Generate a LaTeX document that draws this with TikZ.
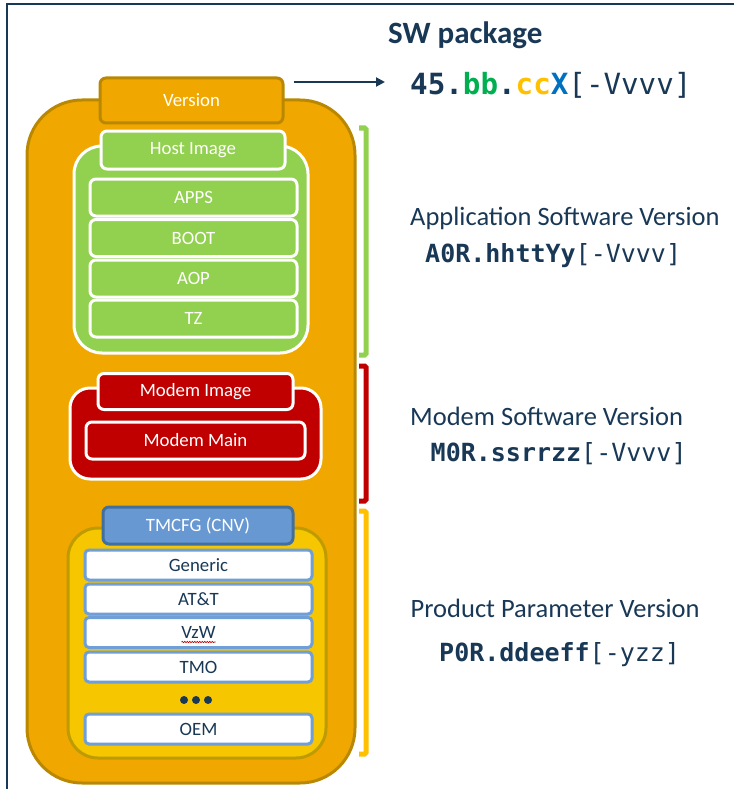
\documentclass[tikz,border=0pt]{standalone}
\usepackage{fontspec}
\setmainfont{Carlito}
\newfontfamily\codefont{DejaVu Sans Mono}
\usepackage{xcolor}
\usetikzlibrary{arrows.meta,calc,decorations.pathmorphing}

\definecolor{navy}{RGB}{24,56,86}
\definecolor{gold}{RGB}{240,168,0}
\definecolor{goldline}{RGB}{186,136,0}
\definecolor{hostgreen}{RGB}{146,208,80}
\definecolor{modemred}{RGB}{192,0,0}
\definecolor{cfgyellow}{RGB}{246,198,0}
\definecolor{cfgline}{RGB}{190,155,0}
\definecolor{cfgblue}{RGB}{104,152,210}
\definecolor{cfgblueline}{RGB}{66,112,158}
\definecolor{itemblue}{RGB}{112,158,214}
\definecolor{vergreen}{RGB}{0,176,80}
\definecolor{veryellow}{RGB}{255,192,0}
\definecolor{verblue}{RGB}{0,112,192}

\newcommand{\lblsize}{\fontsize{18.8}{20}\selectfont}

\begin{document}
\begin{tikzpicture}[x=1pt, y=-1pt,
    imgbox/.style={rectangle, draw=white, fill=#1, line width=3pt, rounded corners=6pt, inner sep=0pt, font=\lblsize, text=white},
    cfgitem/.style={rectangle, draw=itemblue, fill=white, line width=3pt, rounded corners=4pt, minimum width=227pt, minimum height=30pt, inner sep=0pt, font=\lblsize, text=navy},
    brk/.style={draw=#1, line width=5pt, rounded corners=1.5pt},
    verlbl/.style={anchor=base west, inner sep=0pt, font=\fontsize{26.5}{30}\selectfont, text=navy},
    vercode/.style={anchor=base west, inner sep=0pt, font=\fontsize{25}{28}\selectfont\codefont, text=navy},
    pkgarr/.style={-{Triangle[length=9pt,width=9pt]}, draw=navy, line width=2pt}
]
\useasboundingbox (0,0) rectangle (734,789);
\draw[navy, line width=2.5pt] (7,789) -- (7,4) -- (734,4);

% SW package
\node[imgbox=gold, draw=goldline, minimum width=328pt, minimum height=683pt, rounded corners=55pt] (outer) at (191,441.5) {};
\node[imgbox=gold, draw=goldline, minimum width=183pt, minimum height=45pt] (version) at (191.5,100.5) {Version};

% Host image
\node[imgbox=hostgreen, minimum width=234pt, minimum height=207pt, rounded corners=28pt] (host) at (191,249.5) {};
\node[imgbox=hostgreen, minimum width=184pt, minimum height=38pt] (hosttab) at (193,150) {Host Image};
\node[imgbox=hostgreen, minimum width=207pt, minimum height=37pt] (apps) at (193.5,197.5) {APPS};
\node[imgbox=hostgreen, minimum width=207pt, minimum height=37pt] (boot) at (193.5,238) {BOOT};
\node[imgbox=hostgreen, minimum width=207pt, minimum height=37pt] (aop) at (193.5,278.5) {AOP};
\node[imgbox=hostgreen, minimum width=207pt, minimum height=37pt] (tz) at (193.5,318.5) {TZ};

% Modem image
\node[imgbox=modemred, minimum width=251pt, minimum height=91pt, rounded corners=20pt] (modem) at (195.5,433.5) {};
\node[imgbox=modemred, minimum width=195pt, minimum height=36pt] (modemtab) at (195.5,391.5) {Modem Image};
\node[imgbox=modemred, minimum width=219pt, minimum height=37pt] (modemmain) at (195.5,440.5) {Modem Main};

% TMCFG
\node[imgbox=cfgyellow, draw=cfgline, minimum width=258pt, minimum height=230pt, rounded corners=30pt] (tmcfg) at (197,643) {};
\node[imgbox=cfgblue, draw=cfgblueline, minimum width=190pt, minimum height=37pt] (tmtab) at (198,525.5) {TMCFG (CNV)};
\node[cfgitem] (generic) at (198.5,565) {Generic};
\node[cfgitem] (att) at (198.5,599) {AT\&T};
\node[cfgitem] (vzw) at (198.5,632.5) {VzW};
\node[cfgitem] (tmo) at (198.5,667) {TMO};
\node[cfgitem] (oem) at (198.5,729) {OEM};
\draw[modemred, line width=0.6pt, decorate, decoration={snake, amplitude=0.7pt, segment length=2.5pt}] ($(vzw.base)+(-17,3.5)$) -- ($(vzw.base)+(17,3.5)$);
\fill[navy] (184,700) circle (4pt);
\fill[navy] (196,700) circle (4pt);
\fill[navy] (208,700) circle (4pt);

% Brackets
\draw[brk=hostgreen] (359,128) -- (366,128) -- (366,355) -- (359,355);
\draw[brk=modemred] (359,366) -- (366,366) -- (366,501) -- (359,501);
\draw[brk=veryellow] (359,511) -- (366,511) -- (366,754) -- (359,754);

% Version strings
\node[anchor=base west, inner sep=0pt, font=\fontsize{31}{34}\selectfont\bfseries, text=navy] (title) at (388,43.3) {SW package};
\node[anchor=base west, inner sep=0pt, font=\fontsize{29.2}{32}\selectfont\codefont, text=navy] (pkgver) at (410,95) {{\bfseries 45.\textcolor{vergreen}{bb}.\textcolor{veryellow}{cc}\textcolor{verblue}{X}}[-Vvvv]};
\draw[pkgarr] ($(version.east)+(9,-18.5)$) -- ($(pkgver.base west)+(-25,-13)$);

\node[verlbl] (applbl) at (410,225.5) {Application Software Version};
\node[vercode] (appver) at (425,262.5) {{\bfseries A0R.hhttYy}[-Vvvv]};
\node[verlbl] (modemlbl) at (410,425) {Modem Software Version};
\node[vercode] (modemver) at (430.5,461.7) {{\bfseries M0R.ssrrzz}[-Vvvv]};
\node[verlbl] (prodlbl) at (410.5,617.7) {Product Parameter Version};
\node[vercode] (prodver) at (439,661.7) {{\bfseries P0R.ddeeff}[-yzz]};
\end{tikzpicture}
\end{document}
